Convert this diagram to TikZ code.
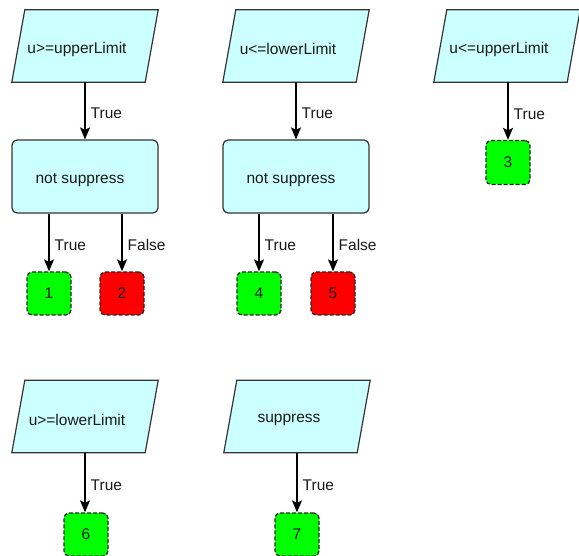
\documentclass[tikz,border=0pt]{standalone}
\usepackage{fontspec}
\setmainfont{Liberation Sans}
\usetikzlibrary{arrows.meta}
\definecolor{paracyan}{HTML}{CCFFFF}
\definecolor{okgreen}{HTML}{00FF00}
\definecolor{badred}{HTML}{FF0000}
\definecolor{edgegray}{HTML}{333333}
\tikzset{
  txt/.style={font=\fontsize{15.5}{18}\selectfont, text=black!90},
  parabase/.style={rectangle, minimum width=146pt, minimum height=72pt, inner sep=0pt, draw=none},
  parastyle/.style={fill=paracyan, draw=edgegray, line width=1.2pt, line join=miter},
  inlab/.style={txt, inner sep=0pt},
  decbox/.style={rectangle, rounded corners=5pt, minimum width=146pt, minimum height=73pt,
    fill=paracyan, draw=edgegray, line width=1.2pt, inner sep=0pt},
  okbox/.style={rectangle, rounded corners=5pt, minimum width=44pt, minimum height=43pt,
    fill=okgreen, draw=black!85, dash pattern=on 4pt off 2pt, line width=1.3pt, txt},
  badbox/.style={okbox, fill=badred},
  arr/.style={-{Stealth[length=12pt,width=10pt,inset=2.5pt]}, line width=1.4pt, black},
  elab/.style={txt, right, inner sep=2pt, xshift=3pt, pos=0.55}
}
\newcommand\drawpara[3]{%
  \node[parabase] (#1) at (#2) {};
  \draw[parastyle] (#1.south west) -- ([xshift=-13pt]#1.south east) -- (#1.north east) -- ([xshift=13pt]#1.north west) -- cycle;
  \node[inlab] (#1t) at ([xshift=-8pt,yshift=-3pt]#1.center) {#3};
}
\newcommand\drawdec[3]{%
  \node[decbox] (#1) at (#2) {};
  \node[inlab] (#1t) at ([xshift=-5pt,yshift=-3.5pt]#1.center) {#3};
}
\begin{document}
\begin{tikzpicture}[x=1pt,y=-1pt]
\useasboundingbox (0,0) rectangle (579,556);
% top row
\drawpara{p1}{85,46}{u>=upperLimit}
\drawdec{d1}{85,176.5}{not suppress}
\node[okbox] (b1) at (49,293.5) {1};
\node[badbox] (b2) at (122,293.5) {2};

\drawpara{p2}{296,46}{u<=lowerLimit}
\drawdec{d2}{296,176.5}{not suppress}
\node[okbox] (b4) at (259,293.5) {4};
\node[badbox] (b5) at (333,293.5) {5};

\drawpara{p3}{507,46}{u<=upperLimit}
\node[okbox, minimum height=44pt] (b3) at (508,162.5) {3};

% bottom row
\drawpara{p6}{85,416.5}{u>=lowerLimit}
\node[okbox] (b6) at (86,534.5) {6};
\drawpara{p7}{297,416.5}{suppress}
\node[okbox] (b7) at (297,534.5) {7};

% connectors
\draw[arr] (p1.south) -- (d1.north) node[elab] {True};
\draw[arr] (d1.south -| b1.north) -- (b1.north) node[elab] {True};
\draw[arr] (d1.south -| b2.north) -- (b2.north) node[elab] {False};

\draw[arr] (p2.south) -- (d2.north) node[elab] {True};
\draw[arr] (d2.south -| b4.north) -- (b4.north) node[elab] {True};
\draw[arr] (d2.south -| b5.north) -- (b5.north) node[elab] {False};

\draw[arr] (p3.south -| b3.north) -- (b3.north) node[elab] {True};
\draw[arr] (p6.south) -- (p6.south |- b6.north) node[elab] {True};
\draw[arr] (p7.south) -- (p7.south |- b7.north) node[elab] {True};
\end{tikzpicture}
\end{document}
